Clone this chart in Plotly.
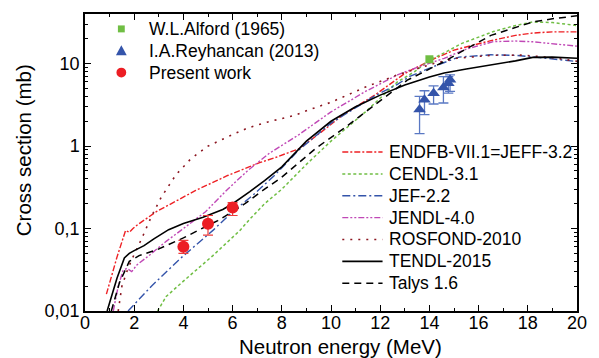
import plotly.graph_objects as go

# ---------------- data ----------------
# Evaluated / calculated excitation functions (energy in MeV, cross section in mb)
endf_x = [0.87, 1.3, 1.65, 1.8, 1.95, 2.15, 2.9, 3.5, 4.5, 5.8, 7.1, 7.7, 8.0, 8.7, 9.5, 10.5, 11.8, 13.0, 14.0, 15.0, 15.8, 16.5, 17.5, 18.2, 19.0, 20.0]
endf_y = [0.016, 0.045, 0.095, 0.09, 0.1, 0.112, 0.16, 0.2, 0.29, 0.44, 0.63, 0.72, 0.78, 0.93, 1.4, 2.4, 4.2, 7.6, 10.8, 14.6, 16.8, 19.0, 22.0, 23.5, 24.3, 24.3]

cendl_x = [2.95, 3.3, 4.0, 5.2, 6.3, 6.7, 7.3, 8.0, 9.0, 10.0, 11.4, 12.7, 13.4, 14.0, 14.6, 15.3, 16.6, 17.5, 18.2, 19.0, 20.0]
cendl_y = [0.01, 0.015, 0.023, 0.047, 0.095, 0.13, 0.2, 0.3, 0.6, 1.15, 2.6, 6.0, 8.0, 11.0, 13.5, 17.5, 24.5, 29.0, 32.0, 31.5, 29.0]

jef_x = [1.75, 2.7, 3.9, 5.2, 6.0, 6.8, 7.7, 8.7, 10.0, 11.0, 11.8, 12.7, 13.2, 14.2, 15.2, 16.5, 17.5, 18.2, 19.0, 20.0]
jef_y = [0.01, 0.02, 0.044, 0.095, 0.16, 0.25, 0.44, 0.9, 1.9, 2.9, 4.1, 5.6, 7.0, 9.3, 12.0, 12.8, 12.6, 12.1, 11.5, 10.6]

jendl_x = [1.15, 1.35, 1.55, 1.7, 1.9, 2.1, 2.6, 3.3, 3.9, 4.9, 5.8, 6.6, 7.5, 8.7, 10.0, 11.4, 12.7, 13.5, 14.6, 15.5, 16.6, 17.5, 18.2, 19.0, 20.0]
jendl_y = [0.01, 0.02, 0.031, 0.033, 0.03, 0.036, 0.047, 0.07, 0.095, 0.16, 0.3, 0.5, 0.82, 1.38, 2.6, 4.6, 7.3, 9.0, 11.6, 15.0, 18.5, 18.8, 18.4, 17.5, 16.3]

rosfond_x = [1.35, 1.5, 1.7, 1.9, 2.3, 2.7, 3.1, 3.7, 4.3, 5.0, 6.0, 6.6, 7.4, 8.5, 9.1, 10.0, 11.4, 12.7, 14.2, 15.1, 16.5, 17.8, 19.0, 20.0]
rosfond_y = [0.01, 0.02, 0.03, 0.042, 0.075, 0.14, 0.24, 0.45, 0.7, 1.0, 1.38, 1.65, 1.95, 2.35, 2.75, 3.4, 5.2, 7.3, 10.1, 11.6, 12.6, 12.7, 11.8, 10.7]

tendl_x = [0.9, 1.3, 1.6, 1.8, 2.0, 2.4, 2.8, 3.1, 3.4, 4.0, 4.8, 5.6, 6.0, 6.7, 7.3, 8.0, 9.0, 10.0, 11.0, 12.0, 13.0, 14.0, 14.6, 15.5, 16.5, 17.5, 18.2, 19.0, 20.0]
tendl_y = [0.01, 0.025, 0.044, 0.05, 0.054, 0.062, 0.075, 0.085, 0.097, 0.115, 0.137, 0.17, 0.2, 0.28, 0.38, 0.56, 1.15, 2.0, 3.0, 4.15, 5.5, 6.9, 7.7, 8.6, 9.6, 10.8, 11.9, 12.0, 11.6]

talys_x = [1.07, 1.4, 1.8, 2.2, 2.9, 3.4, 4.0, 4.6, 5.4, 6.0, 6.5, 7.3, 8.0, 9.4, 10.6, 11.8, 13.1, 14.6, 15.3, 16.5, 18.2, 19.0, 20.0]
talys_y = [0.01, 0.022, 0.04, 0.047, 0.055, 0.064, 0.077, 0.095, 0.125, 0.16, 0.2, 0.3, 0.42, 0.95, 1.7, 3.2, 6.3, 10.6, 14.0, 22.0, 32.0, 35.0, 38.0]

# Experimental data
alford_x = [14.0]
alford_y = [11.3]

reyhancan_x = [13.6, 13.8, 14.17, 14.57, 14.77, 14.84]
reyhancan_y = [2.77, 3.66, 4.38, 5.14, 5.8, 6.36]
reyhancan_up = [1.23, 1.03, 1.0, 1.82, 1.16, 0.94]
reyhancan_dn = [1.35, 1.25, 1.14, 1.81, 1.42, 1.76]

present_x = [4.0, 5.0, 6.0]
present_y = [0.06, 0.114, 0.18]
present_up = [0.012, 0.03, 0.027]
present_dn = [0.010, 0.031, 0.036]

x_tickvals = [0, 2, 4, 6, 8, 10, 12, 14, 16, 18, 20]
y_tickvals = [0.01, 0.1, 1, 10]
y_ticktext = ["0,01", "0,1", "1", "10"]

# ---------------- figure ----------------
FONT = "Liberation Sans, Arial, Helvetica, sans-serif"
W, H = 599, 358
L, R, T, B = 85, 13, 12, 47
PW, PH = W - L - R, H - T - B


def px2x(px):
    return (px - L) / PW


def py2y(py):
    return (H - B - py) / PH


fig = go.Figure()

RED = "rgb(238,32,36)"
GREEN = "rgb(112,190,68)"
BLUE = "rgb(52,84,170)"
MAGENTA = "rgb(192,72,182)"
DARKRED = "rgb(140,22,32)"

curves = [
    ("ENDFB-VII.1=JEFF-3.2", endf_x, endf_y, RED, "6px,2px,2px,2px", 1.4),
    ("CENDL-3.1", cendl_x, cendl_y, GREEN, "3px,2.5px", 1.5),
    ("JEF-2.2", jef_x, jef_y, BLUE, "8px,3px,2px,3px", 1.4),
    ("JENDL-4.0", jendl_x, jendl_y, MAGENTA, "6px,2px,2px,2px,2px,2px", 1.4),
    ("ROSFOND-2010", rosfond_x, rosfond_y, DARKRED, "2px,6px", 1.6),
    ("TENDL-2015", tendl_x, tendl_y, "black", "solid", 1.6),
    ("Talys 1.6", talys_x, talys_y, "black", "7px,5px", 1.5),
]
for name, xs, ys, col, dash, w in curves:
    fig.add_trace(go.Scatter(x=xs, y=ys, mode="lines", name=name,
                             line=dict(color=col, dash=dash, width=w)))

fig.add_trace(go.Scatter(x=alford_x, y=alford_y, mode="markers", name="W.L.Alford (1965)",
                         marker=dict(symbol="square", size=8, color=GREEN)))
fig.add_trace(go.Scatter(x=reyhancan_x, y=reyhancan_y, mode="markers", name="I.A.Reyhancan (2013)",
                         marker=dict(symbol="triangle-up", size=11, color=BLUE),
                         error_y=dict(type="data", symmetric=False, array=reyhancan_up,
                                      arrayminus=reyhancan_dn, color="rgb(90,120,195)",
                                      thickness=1.3, width=5)))
fig.add_trace(go.Scatter(x=present_x, y=present_y, mode="markers", name="Present work",
                         marker=dict(symbol="circle", size=12, color="rgb(236,30,36)"),
                         error_y=dict(type="data", symmetric=False, array=present_up,
                                      arrayminus=present_dn, color="rgb(236,60,60)",
                                      thickness=1.2, width=5)))

axis_common = dict(showline=True, linecolor="black", linewidth=1.5, mirror="allticks",
                   ticks="inside", ticklen=6, tickwidth=1.2, tickcolor="black",
                   showgrid=False, zeroline=False,
                   tickfont=dict(family=FONT, size=18, color="black"))

fig.update_xaxes(range=[0, 20], tickvals=x_tickvals, ticklabelstandoff=-5,
                 minor=dict(tickvals=list(range(1, 20, 2)), ticks="inside", ticklen=3,
                            tickwidth=1.0, tickcolor="black", showgrid=False),
                 **axis_common)
minor_y = [m * 10 ** e for e in (-2, -1, 0, 1) for m in range(2, 10) if m * 10 ** e < 40]
fig.update_yaxes(type="log", range=[-2, 1.602], tickvals=y_tickvals, ticktext=y_ticktext,
                 minor=dict(tickvals=minor_y, ticks="inside", ticklen=3, tickwidth=1.0,
                            tickcolor="black", showgrid=False),
                 **axis_common)

# ---------- legends drawn as keys + text (paper coordinates) ----------
shapes = []
annotations = []
LEG_FONT = dict(family=FONT, size=17.5, color="black")

# marker legend (top-left)
mk_x, mk_text_x = 122, 148
mk_rows = [27, 49, 71]
# square
shapes.append(dict(type="rect", xref="paper", yref="paper",
                   x0=px2x(mk_x - 3.5), x1=px2x(mk_x + 3.5),
                   y0=py2y(mk_rows[0] + 3.5), y1=py2y(mk_rows[0] - 3.5),
                   fillcolor=GREEN, line=dict(width=0)))
# triangle
ty = mk_rows[1]
shapes.append(dict(type="path", xref="paper", yref="paper",
                   path=f"M {px2x(mk_x - 5.5)},{py2y(ty + 4.5)} L {px2x(mk_x + 5.5)},{py2y(ty + 4.5)} "
                        f"L {px2x(mk_x)},{py2y(ty - 5.5)} Z",
                   fillcolor=BLUE, line=dict(width=0)))
# circle
shapes.append(dict(type="circle", xref="paper", yref="paper",
                   x0=px2x(mk_x - 5), x1=px2x(mk_x + 5),
                   y0=py2y(mk_rows[2] + 5), y1=py2y(mk_rows[2] - 5),
                   fillcolor="rgb(236,30,36)", line=dict(width=0)))
for txt, ry in zip(["W.L.Alford (1965)", "I.A.Reyhancan (2013)", "Present work"], mk_rows):
    annotations.append(dict(text=txt, xref="paper", yref="paper", x=px2x(mk_text_x),
                            y=py2y(ry), xanchor="left", yanchor="middle",
                            showarrow=False, font=LEG_FONT))

# line legend (bottom-right)
ln_x0, ln_x1, ln_text_x = 347, 388, 393
ln_rows = [151, 173, 195, 217, 239, 261, 283]
for (name, xs, ys, col, dash, w), ry in zip(curves, ln_rows):
    shapes.append(dict(type="line", xref="paper", yref="paper",
                       x0=px2x(ln_x0), x1=px2x(ln_x1), y0=py2y(ry), y1=py2y(ry),
                       line=dict(color=col, dash=dash, width=w)))
    annotations.append(dict(text=name, xref="paper", yref="paper", x=px2x(ln_text_x),
                            y=py2y(ry), xanchor="left", yanchor="middle",
                            showarrow=False, font=LEG_FONT))

annotations.append(dict(text="Neutron energy (MeV)", xref="paper", yref="paper",
                        x=px2x(345), y=py2y(347), xanchor="center", yanchor="middle",
                        showarrow=False, font=dict(family=FONT, size=20.5, color="black")))
annotations.append(dict(text="Cross section (mb)", xref="paper", yref="paper",
                        x=px2x(22), y=py2y(149), xanchor="center", yanchor="middle",
                        textangle=-90, showarrow=False,
                        font=dict(family=FONT, size=20.5, color="black")))

fig.update_layout(
    width=W, height=H,
    margin=dict(l=L, r=R, t=T, b=B, pad=0),
    paper_bgcolor="white", plot_bgcolor="white",
    font=dict(family=FONT, size=17.5, color="black"),
    showlegend=False,
    shapes=shapes,
    annotations=annotations,
)

fig.write_html("out.html")
